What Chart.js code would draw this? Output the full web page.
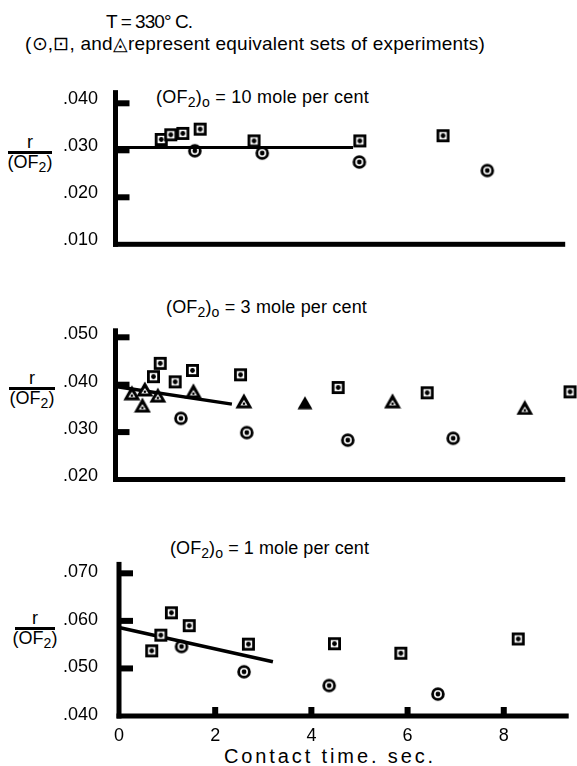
<!DOCTYPE html>
<html><head><meta charset="utf-8">
<script src="https://cdn.jsdelivr.net/npm/chart.js@4.4.1/dist/chart.umd.min.js"></script>
<style>
html,body{margin:0;padding:0;background:#fff;}
#page{position:relative;width:577px;height:766px;overflow:hidden;background:#fff;font-family:"Liberation Sans",Arial,sans-serif;color:#000;}
#page canvas{position:absolute;left:0;}
.t{position:absolute;white-space:nowrap;line-height:1;}
.s{position:relative;font-size:0.78em;top:0.32em;}
.bar{position:absolute;height:3px;background:#000;}
</style></head>
<body><div id="page"></div>
<script>
// ---------- DATA ----------
// Panel A: (OF2)o = 10 mole per cent
const aSquareX = [0.95,1.15,1.40,1.76,2.88,5.08,6.81];
const aSquareY = [0.0323,0.0333,0.0336,0.0345,0.0320,0.0320,0.0331];
const aCircleX = [1.65,3.05,5.07,7.73];
const aCircleY = [0.0299,0.0294,0.0275,0.0257];
const aLineX = [0,4.94];
const aLineY = [0.0306,0.0306];
const aYTicks = [0.010,0.020,0.030,0.040];
const aYLabels = ['.010','.020','.030','.040'];

// Panel B: (OF2)o = 3 mole per cent
const bSquareX = [0.79,0.93,1.24,1.60,2.60,4.63,6.48,9.45];
const bSquareY = [0.0417,0.0445,0.0406,0.0430,0.0421,0.0394,0.0383,0.0385];
const bTriX = [0.34,0.56,0.61,0.88,1.62,2.67,5.76,8.51];
const bTriY = [0.0383,0.0357,0.0391,0.0378,0.0387,0.0366,0.0366,0.0352];
const bTriFillX = [3.94];
const bTriFillY = [0.0362];
const bCircleX = [1.36,2.73,4.83,7.02];
const bCircleY = [0.0329,0.0299,0.0283,0.0287];
const bLineX = [0,2.42];
const bLineY = [0.0396,0.0359];
const bYTicks = [0.020,0.030,0.040,0.050];
const bYLabels = ['.020','.030','.040','.050'];

// Panel C: (OF2)o = 1 mole per cent
const cSquareX = [0.68,0.87,1.09,1.46,2.69,4.48,5.86,8.30];
const cSquareY = [0.0537,0.0570,0.0617,0.0590,0.0551,0.0552,0.0532,0.0562];
const cCircleX = [1.30,2.60,4.37,6.63];
const cCircleY = [0.0546,0.0493,0.0464,0.0446];
const cLineX = [0,3.20];
const cLineY = [0.0586,0.0514];
const cYTicks = [0.040,0.050,0.060,0.070];
const cYLabels = ['.040','.050','.060','.070'];

const xTicks = [0,2,4,6,8];
const xTickLabels = ['0','2','4','6','8'];

// ---------- MARKERS ----------
function mk(w,h,draw){const c=document.createElement('canvas');c.width=w;c.height=h;draw(c.getContext('2d'));return c;}
const circleImg = mk(16,16,g=>{g.beginPath();g.arc(8,8,5.4,0,Math.PI*2);g.fillStyle='#fff';g.fill();g.lineWidth=2.8;g.strokeStyle='#000';g.stroke();g.beginPath();g.arc(8,8,2.4,0,Math.PI*2);g.fillStyle='#000';g.fill();});
const squareImg = mk(15,15,g=>{g.fillStyle='#fff';g.fillRect(1,1,13,13);g.lineWidth=2.8;g.strokeStyle='#000';g.strokeRect(2.4,2.4,10.2,10.2);g.beginPath();g.arc(7.5,7.5,2.4,0,Math.PI*2);g.fillStyle='#000';g.fill();});
const triImg = mk(18,16,g=>{g.fillStyle='#000';g.beginPath();g.moveTo(9,0.5);g.lineTo(17.5,15.5);g.lineTo(0.5,15.5);g.closePath();g.fill();
  g.fillStyle='#fff';g.beginPath();g.moveTo(9,7);g.lineTo(12.6,12.6);g.lineTo(5.4,12.6);g.closePath();g.fill();
  g.fillStyle='#000';g.beginPath();g.arc(9,10.8,1.3,0,Math.PI*2);g.fill();});
const triFillImg = mk(16,14,g=>{g.fillStyle='#000';g.beginPath();g.moveTo(8,0.5);g.lineTo(15.5,13.5);g.lineTo(0.5,13.5);g.closePath();g.fill();});

// ---------- HELPERS ----------
const page = document.getElementById('page');
Chart.defaults.font.family = "'Liberation Sans', Arial, sans-serif";
Chart.defaults.color = '#000';
function pts(xs,ys){return xs.map((x,i)=>({x:x,y:ys[i]}));}
function addText(html,left,top,size,fitW){
  const d=document.createElement('div');d.className='t';d.style.left=left+'px';d.style.top=top+'px';d.style.fontSize=size+'px';d.innerHTML=html;page.appendChild(d);
  if(fitW){const w=d.getBoundingClientRect().width;const n=d.textContent.length;d.style.letterSpacing=((fitW-w)/n)+'px';}
  return d;
}
function addFrac(cx,barY,barW){
  const b=document.createElement('div');b.className='bar';b.style.left=(cx-barW/2)+'px';b.style.top=(barY-1.5)+'px';b.style.width=barW+'px';page.appendChild(b);
  const r=addText('r',0,barY-19.5,18);r.style.left=(cx-r.getBoundingClientRect().width/2)+'px';
  const d=addText('(OF<span class="s">2</span>)',0,barY+0.5,18);d.style.left=(cx-d.getBoundingClientRect().width/2)+'px';
}

const axesPlugin = {
  id:'axes',
  beforeDatasetsDraw(chart,args,o){
    const ctx=chart.ctx,a=chart.chartArea,x=chart.scales.x,y=chart.scales.y;
    const x0=x.getPixelForValue(0), yb=y.getPixelForValue(y.min);
    ctx.save();ctx.fillStyle='#000';
    ctx.fillRect(x0-2.5,a.top,5,yb-a.top+2.5);
    ctx.fillRect(x0-2.5,yb-2.5,a.right-(x0-2.5),5);
    (o.yStubs||[]).forEach(v=>{const p=y.getPixelForValue(v);ctx.fillRect(x0,p-3,14,6);});
    (o.xStubs||[]).forEach(v=>{const p=x.getPixelForValue(v);ctx.fillRect(p-3,yb-9,6,9);});
    ctx.restore();
  }
};

function panel(c){
  const cv=document.createElement('canvas');cv.width=577;cv.height=c.h;cv.style.top=c.top+'px';page.appendChild(cv);
  const ds=[];
  if(c.sq) ds.push({data:pts(c.sq[0],c.sq[1]),pointStyle:squareImg,pointRadius:7,showLine:false,clip:false});
  if(c.tri) ds.push({data:pts(c.tri[0],c.tri[1]),pointStyle:triImg,pointRadius:7,showLine:false,clip:false});
  if(c.triF) ds.push({data:pts(c.triF[0],c.triF[1]),pointStyle:triFillImg,pointRadius:7,showLine:false,clip:false});
  ds.push({data:pts(c.line[0],c.line[1]),showLine:true,pointRadius:0,borderColor:'#000',borderWidth:c.lw,clip:false});
  ds.push({data:pts(c.ci[0],c.ci[1]),pointStyle:circleImg,pointRadius:7,showLine:false,clip:false});
  const xOpt={type:'linear',min:0,max:9.35,display:c.showX,
           grid:{display:false,drawTicks:false},border:{display:false},
           afterBuildTicks:s=>{s.ticks=xTicks.map(v=>({value:v}));},
           ticks:{padding:9,font:{size:18},callback:(v)=>xTickLabels[xTicks.indexOf(v)]}};
  if(c.showX) xOpt.afterFit=s=>{s.height=50;};
  new Chart(cv,{
    type:'scatter',
    data:{datasets:ds},
    options:{
      responsive:false,animation:false,devicePixelRatio:1,events:[],
      layout:{padding:{left:0,right:c.padR,top:c.padT,bottom:c.padB}},
      plugins:{legend:{display:false},tooltip:{enabled:false},axes:{yStubs:c.yTicks.slice(1),xStubs:c.showX?xTicks.slice(1):[]}},
      scales:{
        x:xOpt,
        y:{type:'linear',min:c.yMin,max:c.yMax,
           grid:{display:false,drawTicks:false},border:{display:false},
           afterBuildTicks:s=>{s.ticks=c.yTicks.map(v=>({value:v}));},
           afterFit:s=>{s.width=c.left;},
           ticks:{padding:c.left-98,labelOffset:c.lo,font:{size:18},callback:(v)=>c.yLabels[c.yTicks.indexOf(v)]}}
      }
    },
    plugins:[axesPlugin]
  });
}

// ---------- TEXT ----------
addText('T = 330° C.',106,12,19,86);
addText('(⊙,⊡, and◬represent equivalent sets of experiments)',25,34,19,460);
addText('(OF<span class="s">2</span>)<span class="s">o</span> = 10 mole per cent',156,87.6,18,213);
addText('(OF<span class="s">2</span>)<span class="s">o</span> = 3 mole per cent',166,297.6,18,201);
addText('(OF<span class="s">2</span>)<span class="s">o</span> = 1 mole per cent',170,538.6,18,199);
addText('Contact time. sec.',224,746,20,212);
addFrac(30,152,44);
addFrac(32,388,46);
addFrac(35,628,40);

// ---------- CHARTS ----------
panel({top:40,h:250,left:115.5,padR:577-565.2,padT:50.14,padB:45.7,yMin:0.010,yMax:0.0428,lo:-4,
  yTicks:aYTicks,yLabels:aYLabels,showX:false,lw:3,
  sq:[aSquareX,aSquareY],ci:[aCircleX,aCircleY],line:[aLineX,aLineY]});
panel({top:280,h:250,left:115.5,padR:577-565.2,padT:48.3,padB:50.5,yMin:0.020,yMax:0.0519,lo:-3,
  yTicks:bYTicks,yLabels:bYLabels,showX:false,lw:3.5,
  sq:[bSquareX,bSquareY],tri:[bTriX,bTriY],triF:[bTriFillX,bTriFillY],ci:[bCircleX,bCircleY],line:[bLineX,bLineY]});
panel({top:500,h:266,left:119,padR:577-568.7,padT:61.9,padB:0,yMin:0.040,yMax:0.0724,lo:-1,
  yTicks:cYTicks,yLabels:cYLabels,showX:true,lw:3.5,
  sq:[cSquareX,cSquareY],ci:[cCircleX,cCircleY],line:[cLineX,cLineY]});
</script>
</body></html>
